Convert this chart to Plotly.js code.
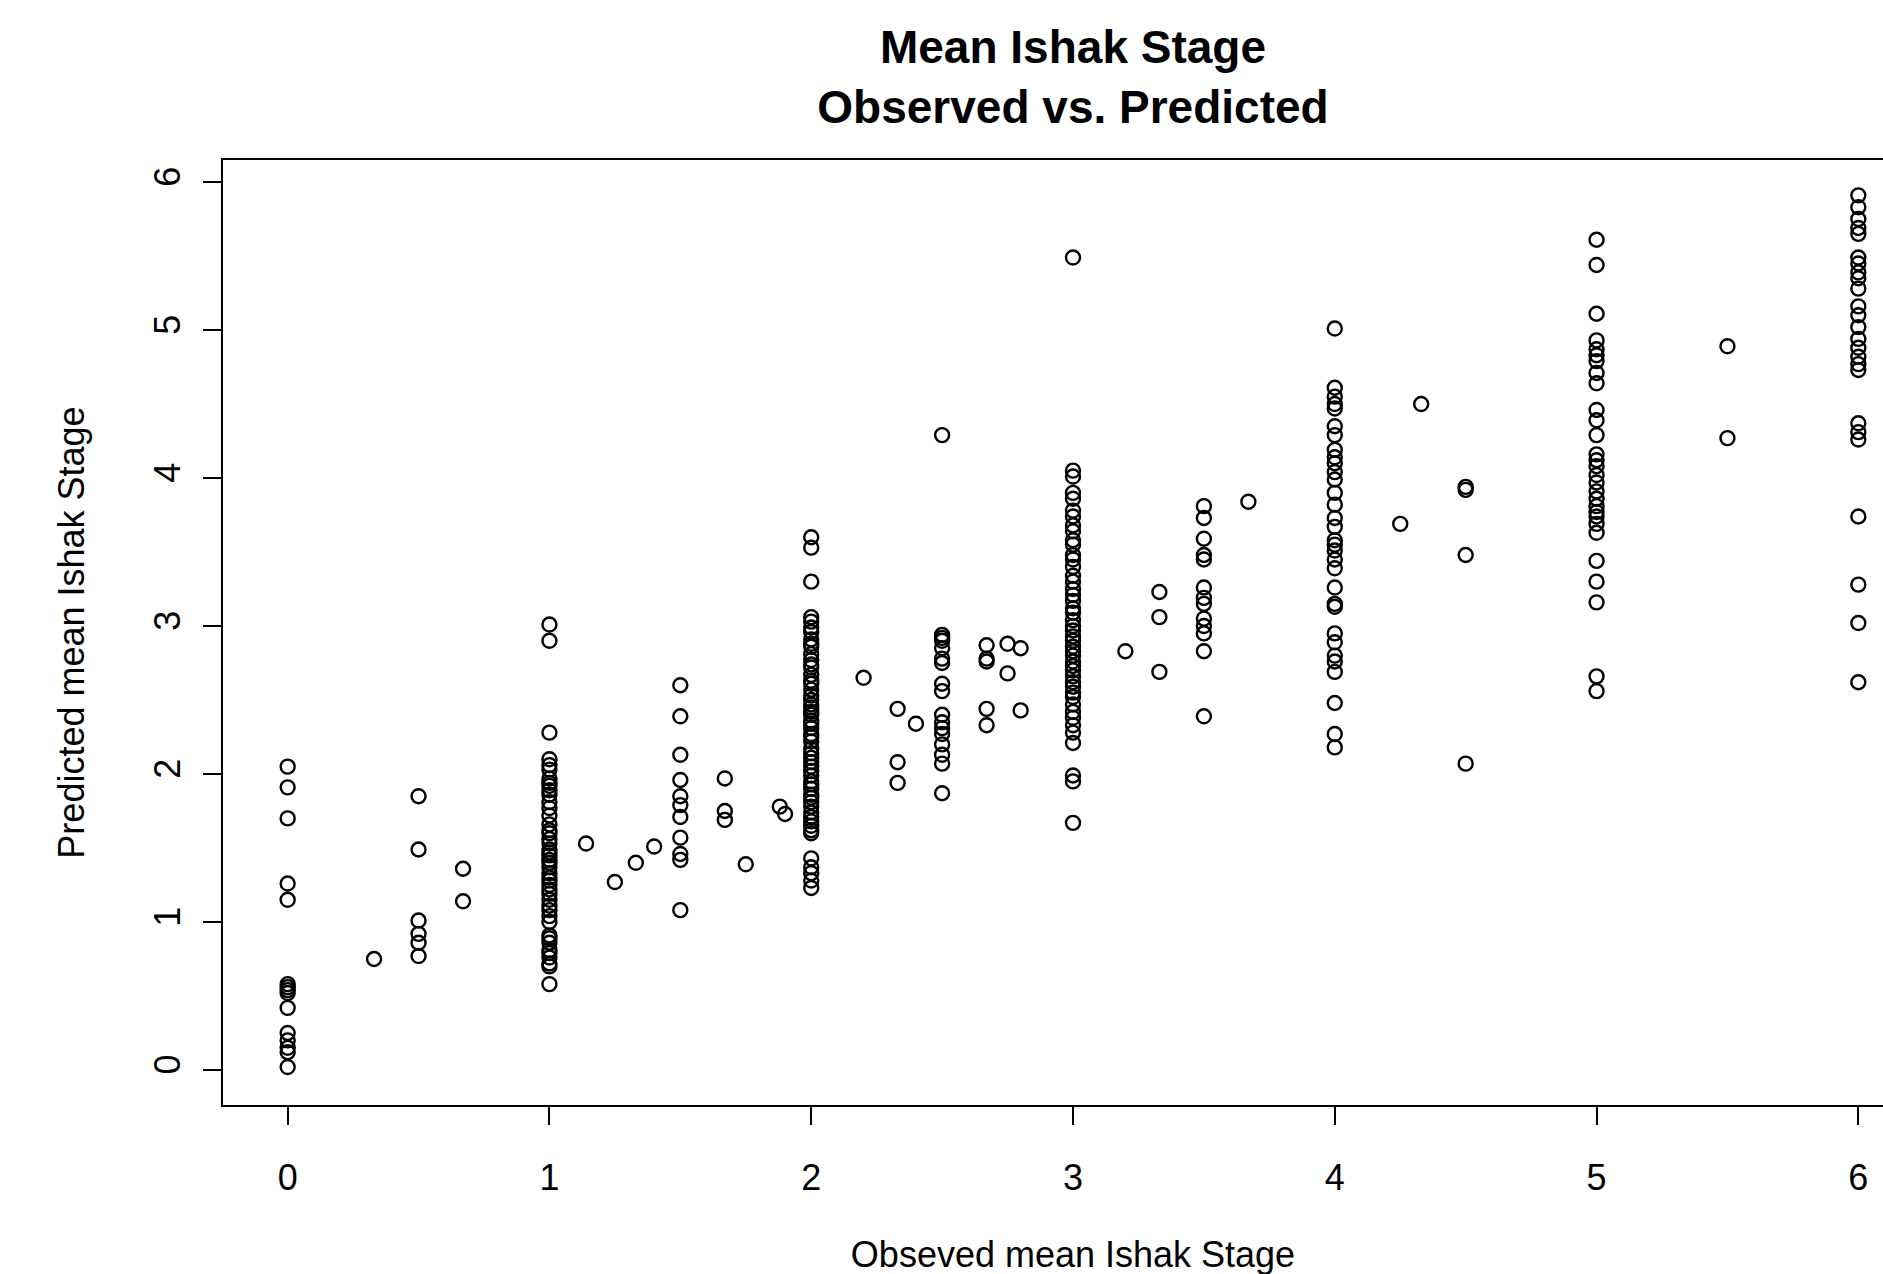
<!DOCTYPE html>
<html>
<head>
<meta charset="utf-8">
<script src="https://cdn.plot.ly/plotly-3.0.1.min.js"></script>
<style>
html,body{margin:0;padding:0;overflow:hidden;background:#fff;}
#chart{width:1931px;height:1300px;}
</style>
</head>
<body>
<div id="chart"></div>
<script>
// Observed mean Ishak stage levels and predicted values
const obs_levels = [0, 0.33, 0.5, 0.67, 1, 1.14, 1.25, 1.33, 1.4, 1.5, 1.67, 1.75, 1.88, 1.9,
  2, 2.2, 2.33, 2.4, 2.5, 2.67, 2.75, 2.8, 3, 3.2, 3.33, 3.5, 3.67, 4, 4.25, 4.33, 4.5, 5, 5.5, 6];

const pred_0 = [2.05, 1.91, 1.70, 1.26, 1.15, 0.58, 0.56, 0.54, 0.52, 0.42, 0.25, 0.20, 0.15, 0.12, 0.02];
const pred_0_33 = [0.75];
const pred_0_5 = [1.85, 1.49, 1.01, 0.92, 0.86, 0.77];
const pred_0_67 = [1.36, 1.14];
const pred_1 = [3.01, 2.90, 2.28, 2.10, 2.06, 2.03, 1.97, 1.94, 1.92, 1.89, 1.86, 1.81, 1.77, 1.72, 1.66,
  1.62, 1.60, 1.56, 1.53, 1.49, 1.47, 1.45, 1.42, 1.40, 1.37, 1.33, 1.30, 1.28, 1.25, 1.22, 1.19,
  1.15, 1.11, 1.08, 1.04, 1.00, 0.91, 0.89, 0.86, 0.81, 0.79, 0.76, 0.72, 0.70, 0.58];
const pred_1_14 = [1.53];
const pred_1_25 = [1.27];
const pred_1_33 = [1.40];
const pred_1_4 = [1.51];
const pred_1_5 = [2.60, 2.39, 2.13, 1.96, 1.85, 1.79, 1.71, 1.57, 1.46, 1.42, 1.08];
const pred_1_67 = [1.97, 1.75, 1.69];
const pred_1_75 = [1.39];
const pred_1_88 = [1.78];
const pred_1_9 = [1.73];
const pred_2 = [3.60, 3.53, 3.30, 3.06, 3.03, 2.99, 2.96, 2.91, 2.88, 2.86, 2.81, 2.77, 2.74, 2.72, 2.67,
  2.63, 2.61, 2.57, 2.53, 2.50, 2.47, 2.45, 2.42, 2.40, 2.36, 2.34, 2.31, 2.27, 2.25, 2.22, 2.17,
  2.14, 2.11, 2.08, 2.05, 2.02, 1.99, 1.95, 1.93, 1.90, 1.86, 1.84, 1.81, 1.78, 1.74, 1.71, 1.68,
  1.65, 1.62, 1.60, 1.43, 1.37, 1.33, 1.28, 1.23];
const pred_2_2 = [2.65];
const pred_2_33 = [2.44, 2.08, 1.94];
const pred_2_4 = [2.34];
const pred_2_5 = [4.29, 2.94, 2.92, 2.90, 2.85, 2.78, 2.75, 2.61, 2.56, 2.40, 2.35, 2.31, 2.27, 2.20, 2.13, 2.07, 1.87];
const pred_2_67 = [2.87, 2.78, 2.76, 2.44, 2.33];
const pred_2_75 = [2.88, 2.68];
const pred_2_8 = [2.85, 2.43];
const pred_3 = [5.49, 4.05, 4.01, 3.90, 3.86, 3.78, 3.74, 3.68, 3.64, 3.58, 3.55, 3.48, 3.45, 3.40,
  3.34, 3.30, 3.25, 3.21, 3.17, 3.12, 3.09, 3.04, 3.00, 2.97, 2.93, 2.90, 2.86, 2.83, 2.80, 2.76,
  2.73, 2.70, 2.66, 2.62, 2.59, 2.55, 2.52, 2.47, 2.42, 2.38, 2.33, 2.28, 2.21, 1.99, 1.95, 1.67];
const pred_3_2 = [2.83];
const pred_3_33 = [3.23, 3.06, 2.69];
const pred_3_5 = [3.81, 3.73, 3.59, 3.48, 3.45, 3.26, 3.19, 3.15, 3.05, 3.00, 2.95, 2.83, 2.39];
const pred_3_67 = [3.84];
const pred_4 = [5.01, 4.61, 4.55, 4.50, 4.47, 4.35, 4.29, 4.19, 4.14, 4.10, 4.04, 3.99, 3.90, 3.82,
  3.73, 3.67, 3.58, 3.55, 3.51, 3.45, 3.39, 3.26, 3.15, 3.13, 2.95, 2.89, 2.80, 2.76, 2.69, 2.48,
  2.27, 2.18];
const pred_4_25 = [3.69];
const pred_4_33 = [4.50];
const pred_4_5 = [3.94, 3.92, 3.48, 2.07];
const pred_5 = [5.61, 5.44, 5.11, 4.93, 4.87, 4.83, 4.79, 4.71, 4.64, 4.46, 4.39, 4.29, 4.16, 4.12,
  4.08, 4.02, 3.97, 3.91, 3.86, 3.81, 3.77, 3.74, 3.69, 3.63, 3.44, 3.30, 3.16, 2.66, 2.56];
const pred_5_5 = [4.89, 4.27];
const pred_6 = [5.91, 5.83, 5.75, 5.69, 5.65, 5.49, 5.45, 5.39, 5.35, 5.28, 5.16, 5.10, 5.02, 4.94,
  4.88, 4.82, 4.77, 4.73, 4.37, 4.31, 4.26, 3.74, 3.28, 3.02, 2.62];

const pred_groups = [pred_0, pred_0_33, pred_0_5, pred_0_67, pred_1, pred_1_14, pred_1_25, pred_1_33,
  pred_1_4, pred_1_5, pred_1_67, pred_1_75, pred_1_88, pred_1_9, pred_2, pred_2_2, pred_2_33, pred_2_4,
  pred_2_5, pred_2_67, pred_2_75, pred_2_8, pred_3, pred_3_2, pred_3_33, pred_3_5, pred_3_67, pred_4,
  pred_4_25, pred_4_33, pred_4_5, pred_5, pred_5_5, pred_6];

const x_ticks = [0, 1, 2, 3, 4, 5, 6];
const y_ticks = [0, 1, 2, 3, 4, 5, 6];

const xs = [], ys = [];
obs_levels.forEach((lv, i) => {
  pred_groups[i].forEach(v => { xs.push(lv); ys.push(v); });
});

const FONT = "Liberation Sans, Arial, Helvetica, sans-serif";
const H = 1300;

const trace = {
  type: 'scatter',
  mode: 'markers',
  x: xs,
  y: ys,
  marker: {symbol: 'circle-open', size: 14, color: '#000', line: {width: 2.4, color: '#000'}},
  hoverinfo: 'x+y'
};

const layout = {
  width: 1931,
  height: H,
  margin: {l: 223, r: 8, t: 160, b: H - 1105, pad: 0},
  paper_bgcolor: '#fff',
  plot_bgcolor: '#fff',
  showlegend: false,
  font: {family: FONT, color: '#000'},
  title: {
    text: '<b>Mean Ishak Stage</b><br><b>Observed vs. Predicted</b>',
    font: {family: FONT, size: 46, color: '#000'},
    x: 0.5, xref: 'paper', xanchor: 'center',
    y: 1 - 63 / H, yref: 'container', yanchor: 'top'
  },
  xaxis: {
    range: [-0.247, 6.247],
    tickvals: x_ticks,
    ticktext: x_ticks.map(String),
    ticks: 'outside', ticklen: 18, tickwidth: 2, tickcolor: '#000',
    ticklabelstandoff: 22,
    tickfont: {family: FONT, size: 36, color: '#000'},
    showline: true, linewidth: 2, linecolor: '#000', mirror: true,
    showgrid: false, zeroline: false,
    automargin: false,
    title: {text: 'Obseved mean Ishak Stage', font: {family: FONT, size: 36, color: '#000'}, standoff: 45}
  },
  yaxis: {
    range: [-0.2365, 6.149],
    tickvals: y_ticks,
    ticktext: y_ticks.map(String),
    tickangle: -90,
    ticks: 'outside', ticklen: 18, tickwidth: 2, tickcolor: '#000',
    ticklabelstandoff: 9,
    tickfont: {family: FONT, size: 36, color: '#000'},
    showline: true, linewidth: 2, linecolor: '#000', mirror: true,
    showgrid: false, zeroline: false,
    automargin: false,
    title: {text: 'Predicted mean Ishak Stage', font: {family: FONT, size: 36, color: '#000'}, standoff: 51}
  }
};

Plotly.newPlot('chart', [trace], layout, {displayModeBar: false, staticPlot: true});
</script>
</body>
</html>
